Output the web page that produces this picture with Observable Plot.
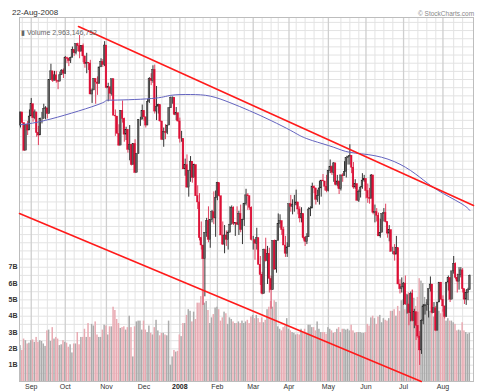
<!DOCTYPE html>
<html><head><meta charset="utf-8">
<script src="https://cdn.jsdelivr.net/npm/d3@7"></script>
<script src="https://cdn.jsdelivr.net/npm/@observablehq/plot@0.6"></script>
<style>
body{margin:0;background:#fff;font-family:"Liberation Sans",Arial,sans-serif;}
#wrap{position:relative;width:499px;height:392px;overflow:hidden;}
#wrap svg{position:absolute;left:0;top:0;}
.t{position:absolute;white-space:nowrap;}
</style></head><body><div id="wrap">
<div class="t" style="left:12px;top:8px;font-size:8px;color:#333">22-Aug-2008</div>
<div class="t" style="left:418px;top:10px;font-size:6.5px;color:#888">© StockCharts.com</div>
<div class="t" id="leg" style="left:21px;top:29px;font-size:7px;color:#666;z-index:5">▮ Volume 2,963,146,752</div>
</div>
<script>
// trading days 24-Aug-2007 .. 22-Aug-2008 (index 0..251)
const open = [1463,1479,1466,1433,1464,1457,
1474,1489,1472,1479,1454,1451,1471,1471,1483,1484,1477,1519,1530,1518,1525,1518,1517,1525,1531,
1527,1547,1546,1543,1547,1557,1553,1565,1562,1555,1562,1549,1539,1541,1540,1501,1506,1520,1516,1514,1535,1542,1538,
1563,1509,1510,1502,1520,1475,1474,1453,1439,1481,1471,1452,1458,1434,1440,1416,1441,1407,1429,1470,1470,
1481,1473,1463,1492,1520,1518,1532,1480,1486,1488,1468,1446,1455,1454,1463,1484,1497,1497,1476,1478,
1468,1447,1447,1411,1416,1390,1409,1420,1401,1416,1380,1373,1333,1325,1310,1339,1352,1331,1353,1362,1355,
1378,1395,1380,1336,1326,1336,1331,1339,1348,1367,1349,1350,1348,1360,1342,1353,1371,1381,1380,1367,
1331,1331,1327,1333,1304,1293,1273,1320,1308,1316,1289,1277,1330,1299,1330,1349,1352,1342,1325,1316,
1323,1371,1368,1370,1370,1373,1365,1355,1360,1333,1329,1334,1365,1366,1391,1389,1376,1380,1389,1398,1397,1391,
1386,1409,1414,1407,1418,1393,1397,1388,1404,1403,1408,1424,1426,1427,1413,1390,1394,1375,1385,1390,1398,
1400,1386,1378,1377,1404,1361,1362,1358,1335,1339,1360,1361,1351,1338,1342,1318,1318,1315,1322,1283,1278,
1280,1284,1262,1262,1253,1273,1245,1254,1240,1229,1215,1245,1260,1261,1261,1278,1283,1253,1258,1235,1264,1285,
1267,1260,1249,1285,1290,1267,1297,1305,1290,1286,1293,1298,1278,1267,1274,1277];
const high = [1479,1479,1466,1464,1468,1482,
1496,1489,1482,1479,1462,1472,1479,1489,1486,1484,1519,1539,1530,1530,1530,1518,1529,1532,1533,
1549,1548,1547,1548,1561,1557,1565,1566,1576,1563,1565,1549,1553,1541,1544,1508,1521,1521,1523,1535,1546,1545,1568,
1563,1515,1510,1520,1520,1482,1474,1464,1481,1493,1472,1461,1458,1463,1440,1441,1446,1429,1470,1473,1488,
1481,1473,1495,1522,1527,1537,1538,1511,1489,1488,1468,1460,1464,1463,1485,1498,1498,1497,1485,1478,
1472,1456,1447,1423,1428,1409,1426,1420,1417,1416,1392,1383,1351,1325,1339,1355,1368,1353,1364,1385,1386,
1396,1395,1380,1351,1347,1341,1341,1368,1369,1368,1350,1368,1363,1370,1354,1372,1388,1383,1380,1368,
1335,1332,1344,1333,1313,1296,1321,1333,1324,1322,1292,1330,1331,1330,1360,1359,1352,1345,1335,1328,
1371,1381,1376,1381,1387,1373,1368,1367,1360,1335,1338,1367,1368,1395,1392,1389,1387,1397,1398,1405,1397,1404,
1410,1422,1415,1419,1418,1404,1397,1404,1406,1420,1424,1426,1440,1427,1419,1399,1394,1387,1391,1406,1404,
1400,1394,1389,1405,1404,1370,1366,1361,1354,1360,1366,1371,1351,1347,1342,1323,1326,1335,1322,1288,1290,
1285,1292,1272,1273,1275,1277,1257,1254,1254,1234,1246,1262,1262,1267,1278,1291,1283,1264,1260,1264,1285,1285,
1271,1260,1285,1292,1290,1297,1313,1306,1294,1301,1301,1300,1278,1277,1279,1293];
const low = [1460,1465,1432,1433,1451,1457,
1474,1467,1470,1449,1439,1451,1465,1471,1470,1471,1477,1519,1516,1518,1515,1507,1517,1525,1521,
1526,1540,1536,1540,1547,1549,1551,1555,1546,1555,1541,1534,1527,1531,1501,1490,1506,1489,1500,1514,1535,1535,1536,
1508,1492,1494,1499,1475,1450,1453,1438,1439,1466,1443,1445,1430,1421,1415,1416,1406,1407,1429,1462,1470,
1468,1460,1463,1490,1512,1515,1477,1469,1477,1467,1445,1437,1446,1452,1463,1484,1489,1475,1469,1467,
1442,1443,1411,1403,1389,1379,1396,1395,1402,1380,1365,1330,1320,1261,1270,1334,1328,1322,1350,1348,1334,
1375,1379,1336,1325,1316,1324,1320,1339,1348,1347,1335,1347,1336,1339,1326,1346,1369,1364,1364,1330,
1320,1309,1320,1304,1282,1272,1273,1307,1283,1274,1257,1277,1298,1295,1330,1344,1336,1325,1312,1312,
1323,1362,1359,1362,1369,1359,1350,1350,1331,1324,1326,1334,1357,1366,1383,1370,1373,1370,1379,1397,1386,1384,
1385,1406,1404,1396,1392,1391,1382,1386,1396,1403,1401,1416,1416,1406,1388,1388,1374,1373,1378,1388,1396,
1377,1372,1371,1377,1359,1350,1351,1335,1333,1339,1351,1350,1333,1329,1318,1315,1308,1315,1283,1273,1274,
1261,1261,1252,1240,1244,1244,1237,1225,1227,1200,1211,1241,1251,1255,1248,1275,1252,1253,1234,1235,1264,1266,
1254,1247,1249,1276,1264,1267,1294,1288,1274,1277,1290,1274,1262,1261,1266,1277];
const close = [1479,1466,1433,1464,1457,1474,
1489,1472,1479,1454,1451,1471,1471,1483,1484,1477,1519,1530,1518,1525,1518,1517,1525,1531,1527,
1547,1546,1543,1547,1557,1553,1565,1562,1555,1562,1549,1539,1541,1540,1501,1506,1520,1516,1514,1535,1542,1538,1563,
1509,1510,1502,1520,1475,1474,1453,1439,1481,1471,1452,1458,1434,1440,1416,1441,1407,1429,1470,1470,1481,
1473,1463,1492,1520,1518,1532,1480,1486,1488,1468,1446,1455,1454,1463,1484,1497,1497,1476,1478,1468,
1447,1447,1411,1416,1390,1409,1420,1401,1416,1380,1373,1333,1325,1310,1339,1352,1331,1353,1362,1355,1378,
1395,1380,1336,1326,1336,1331,1339,1348,1367,1349,1350,1348,1360,1342,1353,1371,1381,1380,1367,1331,
1331,1327,1333,1304,1293,1273,1320,1308,1316,1289,1277,1330,1299,1330,1349,1352,1342,1325,1316,1323,
1371,1368,1370,1370,1373,1365,1355,1360,1333,1329,1334,1365,1366,1391,1389,1376,1380,1389,1398,1397,1391,1386,
1409,1414,1407,1418,1393,1397,1388,1404,1403,1408,1424,1426,1427,1413,1390,1394,1375,1385,1390,1398,1400,
1386,1378,1377,1404,1361,1362,1358,1335,1339,1360,1361,1351,1338,1342,1318,1318,1315,1322,1283,1278,1280,
1284,1262,1262,1253,1273,1245,1254,1240,1229,1215,1245,1260,1261,1261,1278,1283,1253,1258,1235,1264,1285,1267,
1260,1249,1285,1290,1267,1297,1305,1290,1286,1293,1298,1278,1267,1274,1277,1292];
// volume, billions of shares
const volume = [2.2,1.9,2.6,2.5,2.3,2.35,2.5,2.55,2.4,2.7,
2.4,2.5,2.45,2.3,2.15,3.1,3.15,2.45,3.3,2.6,
2.7,2.6,2.2,2.25,2.5,2.4,2.35,2.1,2.25,1.75,
2.3,2.3,3.0,2.25,2.7,2.7,3.2,2.7,3.55,2.7,
3.5,3.4,3.65,2.85,2.7,2.7,3.15,3.45,3.4,2.85,
3.35,3.35,4.55,4.35,3.8,3.55,3.25,3.3,3.35,3.15,
3.3,4.0,3.3,1.5,3.35,3.65,3.7,3.7,3.15,3.7,
3.15,3.0,3.4,2.95,2.85,3.3,3.75,3.1,2.8,2.95,
2.95,2.85,2.8,3.7,1.0,1.5,1.9,1.8,1.85,2.85,
2.75,3.55,3.55,4.05,4.4,4.3,3.65,4.25,3.8,4.8,
4.8,5.2,5.55,4.8,4.9,4.35,3.55,3.9,4.1,4.5,
4.55,4.4,3.7,3.9,4.25,4.15,3.5,3.9,3.8,3.65,
3.55,3.55,3.65,3.55,3.7,3.55,3.65,3.75,3.55,
3.95,4.05,3.85,4.05,3.85,3.6,3.9,3.6,3.75,4.4,
4.55,4.9,4.55,4.95,4.85,3.35,3.2,3.1,3.3,3.4,
3.85,3.2,3.1,3.0,2.95,2.85,2.9,2.85,3.2,3.0,
3.2,2.9,3.45,3.45,3.3,3.3,3.1,3.65,3.2,3.0,
3.0,3.0,2.9,3.3,3.2,3.1,2.95,3.0,3.2,3.3,
3.0,3.2,3.2,3.15,3.2,3.1,3.45,3.1,2.95,3.0,
3.0,3.0,2.95,2.95,3.0,3.5,3.4,3.9,4.0,3.85,
3.5,3.95,4.05,3.6,3.85,3.75,3.7,3.85,4.3,4.3,
4.4,4.0,4.6,4.3,4.95,5.0,4.4,5.35,5.45,5.15,
5.6,5.1,4.6,5.15,6.3,6.15,6.0,5.15,4.85,4.6,
4.3,4.6,3.95,4.05,4.15,4.3,4.15,4.4,3.95,3.7,
3.85,3.7,3.7,3.6,3.5,3.1,3.15,3.1,3.6,3.1,
3.0,2.9,2.96];
// moving average (read at sampled trading-day indexes)
const maIndex = [0,17,45,50,73,84,95,106,117,128,140,151,156,163,175,184,198,212,223,233,246,251];
const maValue = [1464,1471,1490,1494,1496,1500,1501,1499,1491,1481,1469,1457,1451,1445,1437,1431,1427,1417,1402,1387,1372,1364];
// trend lines: [index, price] end points
const trendNames = ["upper","upper","lower","lower"];
const trendIndex = [32.4, 253.07, -0.56, 223.9];
const trendPrice = [1587.8, 1369.5, 1360.5, 1184.2];
// axis labels
const monthLabels = ["Sep","Oct","Nov","Dec","2008","Feb","Mar","Apr","May","Jun","Jul","Aug"];
const monthStarts = [6,25,48,69,89,110,130,150,172,193,214,236];
const weekStarts = [1,10,15,20,30,35,40,45,55,60,64,74,79,84,92,97,102,106,116,121,125,135,140,144,154,159,164,169,179,184,189,198,203,208,217,222,227,232,242,247];
const volTicks = [1,2,3,4,5,6,7];

const rows = close.map((c, i) => ({i, o: open[i], h: high[i], l: low[i], c, v: volume[i], up: c >= open[i]}));
const maRows = maIndex.map((i, k) => ({i, v: maValue[k]}));
const trendRows = trendIndex.map((i, k) => ({i, p: trendPrice[k], z: trendNames[k]}));
const monthRows = monthLabels.map((m, k) => ({i: monthStarts[k], m}));

const W = 499, H = 392;
const common = {width: W, height: H, marginLeft: 19, marginRight: 26, marginTop: 17, marginBottom: 11};
const xs = {type: "linear", domain: [-0.56, 253.07], axis: null};

const back = Plot.plot({
  ...common,
  style: {background: "#fff", fontFamily: "Liberation Sans, Arial, sans-serif"},
  x: xs,
  y: {domain: [0, 22.3], axis: null},
  marks: [
    Plot.ruleY(d3.range(0.5, 22.3, 0.5), {stroke: "#e3e3e3", strokeWidth: 1}),
    Plot.ruleX(weekStarts, {stroke: "#e3e3e3", strokeWidth: 1}),
    Plot.ruleX(monthStarts, {stroke: "#cfcfcf", strokeWidth: 1.3}),
    Plot.rectY(rows, {x1: d => d.i - 0.5, x2: d => d.i + 0.5, y1: 0, y2: "v", insetLeft: 0.15, insetRight: 0.15, fill: d => d.up ? "#ababab" : "#e9aab2"}),
    Plot.frame({stroke: "#bdbdbd"}),
    Plot.axisY(volTicks, {anchor: "left", label: null, tickSize: 0, tickPadding: 2, tickFormat: d => d + "B", fontSize: 7, fontWeight: "bold", fill: "#333"}),
    Plot.text(monthRows.filter(d => d.m !== "2008"), {x: "i", text: "m", frameAnchor: "bottom", dy: 7, fontSize: 7, fill: "#333"}),
    Plot.text(monthRows.filter(d => d.m === "2008"), {x: "i", text: "m", frameAnchor: "bottom", dy: 7, fontSize: 7, fontWeight: "bold", fill: "#222"})
  ]
});

const front = Plot.plot({
  ...common,
  style: {background: "transparent", overflow: "visible"},
  x: xs,
  y: {type: "log", domain: [1184.2, 1599.6], axis: null},
  marks: [
    Plot.ruleX(rows, {x: "i", y1: "l", y2: "h", stroke: d => d.up ? "#333" : "#e0405e", strokeWidth: 1}),
    Plot.rect(rows, {x1: d => d.i - 0.45, x2: d => d.i + 0.45, y1: "o", y2: "c", fill: d => d.up ? "#666" : "#dc0f35", stroke: d => d.up ? "#222" : "#dc0f35", strokeWidth: 0.4}),
    Plot.line(maRows, {x: "i", y: "v", stroke: "#6464c0", strokeWidth: 1, curve: "natural"}),
    Plot.line(trendRows, {x: "i", y: "p", z: "z", stroke: "#ff1a1a", strokeWidth: 1.6})
  ]
});

const wrap = document.getElementById("wrap");
wrap.insertBefore(back, wrap.firstChild);
wrap.insertBefore(front, document.getElementById("leg"));
</script></body></html>
